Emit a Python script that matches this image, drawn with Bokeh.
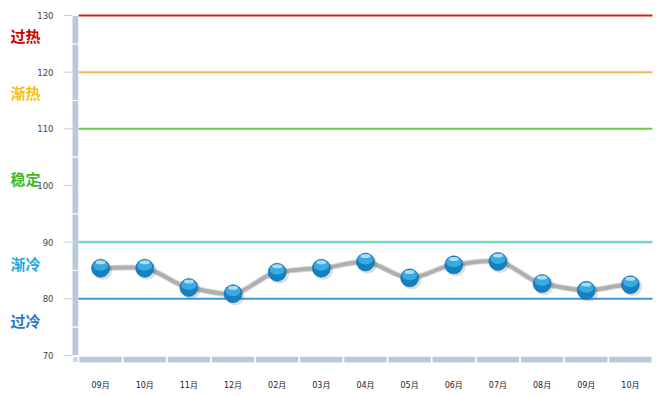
from bokeh.plotting import figure
from bokeh.models import Range1d, FixedTicker
from bokeh.core.properties import value
from bokeh.embed import file_html
from bokeh.resources import INLINE

# ---- data ----
months = ["09月", "10月", "11月", "12月", "02月", "03月", "04月", "05月", "06月", "07月", "08月", "09月", "10月"]
values = [85.4, 85.4, 82.0, 80.9, 84.7, 85.4, 86.5, 83.7, 86.0, 86.6, 82.7, 81.5, 82.5]
y_ticks = [70, 80, 90, 100, 110, 120, 130]
levels = [130, 120, 110, 90, 80]
level_colors = ["#d02424", "#f7b25e", "#6acb45", "#5cc8c8", "#3a98da"]
zone_names = ["过热", "渐热", "稳定", "渐冷", "过冷"]
zone_y = [126.5, 116.4, 101.2, 86.2, 76.2]
zone_colors = ["#cc0000", "#f5c010", "#44bb22", "#22a8e0", "#2a78c0"]

n = len(months)
xs = [i + 0.5 for i in range(n)]

p = figure(width=660, height=394, output_backend="svg", toolbar_location=None,
           x_range=Range1d(-1.7667, 13.182), y_range=Range1d(68.235, 132.647),
           min_border_left=0, min_border_right=0, min_border_top=0, min_border_bottom=29)
p.outline_line_color = None
p.xgrid.visible = False
p.ygrid.visible = False
p.yaxis.visible = False
p.background_fill_color = "white"

# x axis (labels only)
xa = p.xaxis[0]
xa.ticker = FixedTicker(ticks=xs)
xa.major_label_overrides = {x: m for x, m in zip(xs, months)}
xa.axis_line_color = None
xa.major_tick_line_color = None
xa.minor_tick_line_color = None
xa.major_label_standoff = 9
xa.major_label_text_font = "DejaVu Sans, Noto Sans CJK SC"
xa.major_label_text_font_size = "8px"
xa.major_label_text_color = "#222222"

# y ticks and labels
p.segment(x0=[-0.317] * len(y_ticks), x1=[-0.136] * len(y_ticks), y0=y_ticks, y1=y_ticks,
          line_color="#c8c8c8", line_width=1)
p.text(x=[-0.566] * len(y_ticks), y=y_ticks, text=[str(t) for t in y_ticks],
       text_font=value("DejaVu Sans"), text_font_size="8.5px", text_color="#444444",
       text_align="right", text_baseline="middle")

# threshold lines
for lv, c in zip(levels, level_colors):
    if lv == 90:
        p.line([0, n], [lv + 0.12, lv + 0.12], line_color="#9fdc6e", line_width=1.3)
        p.line([0, n], [lv - 0.1, lv - 0.1], line_color="#38bfe2", line_width=1.2)
    else:
        p.line([0, n], [lv, lv], line_color=c, line_width=2)

# left axis bar with breaks
bar_x0, bar_x1 = -0.136, -0.005
seg_edges = [70, 75, 85, 95, 105, 115, 125, 130]
for a, b in zip(seg_edges[:-1], seg_edges[1:]):
    p.quad(left=bar_x0, right=bar_x1, bottom=a + 0.1, top=b - 0.1,
           fill_color="#b9cadc", line_color=None)
# bottom bar
for i in range(n):
    p.quad(left=i + 0.02, right=i + 1 - 0.02, bottom=68.76, top=69.8,
           fill_color="#b9cadc", line_color=None)
p.quad(left=bar_x0, right=bar_x1, bottom=68.76, top=69.8,
       fill_color="#ccd8e6", line_color="white", line_width=1)

# smoothed connecting line (bezier from the data points)
k = 0.55
slopes = []
for i in range(n):
    if i == 0 or i == n - 1:
        slopes.append(0.0)
    else:
        slopes.append(k * (values[i + 1] - values[i - 1]) / 2.0)
x0s, y0s, x1s, y1s, cx0, cy0, cx1, cy1 = [], [], [], [], [], [], [], []
for i in range(n - 1):
    x0s.append(xs[i]); y0s.append(values[i])
    x1s.append(xs[i + 1]); y1s.append(values[i + 1])
    cx0.append(xs[i] + 1 / 3); cy0.append(values[i] + slopes[i] / 3)
    cx1.append(xs[i + 1] - 1 / 3); cy1.append(values[i + 1] - slopes[i + 1] / 3)
p.bezier(x0=x0s, y0=y0s, x1=x1s, y1=y1s, cx0=cx0, cy0=cy0, cx1=cx1, cy1=cy1,
         line_color="#dddddd", line_width=6)
p.bezier(x0=x0s, y0=y0s, x1=x1s, y1=y1s, cx0=cx0, cy0=cy0, cx1=cx1, cy1=cy1,
         line_color="#afafaf", line_width=4)

# glossy ball markers
p.scatter([x + 0.05 for x in xs], [v - 0.35 for v in values], size=19,
          fill_color="#555555", fill_alpha=0.2, line_color=None)
p.scatter(xs, values, size=18, fill_color="#1481c2", line_color="#0e6aa3", line_width=0.6)
p.ellipse(xs, [v + 0.45 for v in values], width=15, height=10,
          width_units="screen", height_units="screen",
          fill_color="#3eafe6", fill_alpha=0.9, line_color=None)
p.ellipse(xs, [v + 1.05 for v in values], width=10, height=4,
          width_units="screen", height_units="screen",
          fill_color="#c4eafb", fill_alpha=0.8, line_color=None)

# zone labels
p.text(x=[-1.54] * len(zone_names), y=zone_y, text=zone_names, text_color=zone_colors,
       text_font=value("Noto Sans CJK SC"), text_font_size="15px", text_font_style="bold",
       text_baseline="middle", text_align="left")

open("out.html", "w").write(file_html(p, INLINE))
